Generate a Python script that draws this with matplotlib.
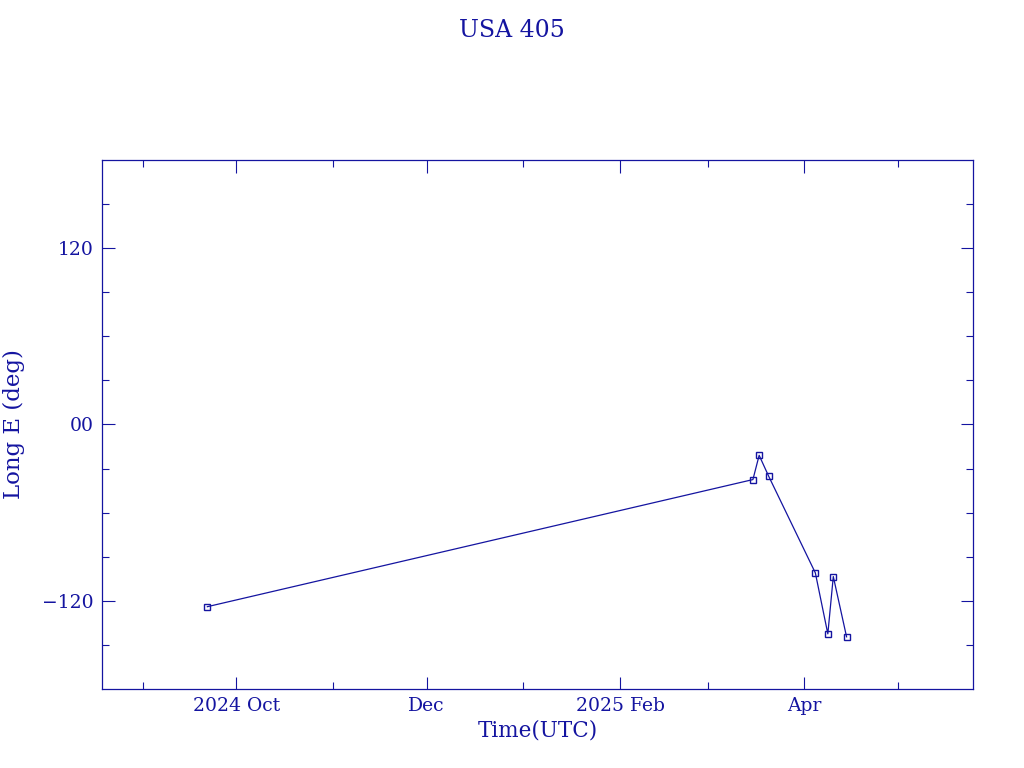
import numpy as np
import matplotlib
matplotlib.use('Agg')
import matplotlib.pyplot as plt
import matplotlib.dates as mdates
from datetime import datetime

dates = ['2024-09-21 18:00', '2025-03-15 12:00', '2025-03-17 12:00', '2025-03-20 12:00',
         '2025-04-04 12:00', '2025-04-08 12:00', '2025-04-10 06:00', '2025-04-14 12:00']
longs = [-124.0, -37.5, -21.0, -35.0, -101.0, -142.5, -103.5, -144.5]

yticks = [-120, 0, 120]
ylabels = ['\u2212120', '00', '120']

col = '#1414a0'
t = [datetime.strptime(d, '%Y-%m-%d %H:%M') for d in dates]

plt.rcParams['font.family'] = ['DejaVu Serif']
fig = plt.figure(figsize=(10.24, 7.68), dpi=100)
ax = fig.add_axes([0.0996, 0.1029, 0.8506, 0.6888])

ax.plot(t, longs, '-', color=col, lw=0.9)
ax.plot(t, longs, 's', color=col, ms=4, mfc='none', mew=1.0)

ax.set_xlim(datetime(2024, 8, 19), datetime(2025, 5, 25))
ax.set_ylim(-180, 180)

ax.xaxis.set_major_locator(mdates.MonthLocator(bymonth=[2, 4, 10, 12]))
ax.xaxis.set_minor_locator(mdates.MonthLocator())
def fmt(x, pos):
    d = mdates.num2date(x)
    if d.month in (2, 10):
        return d.strftime('%Y %b')
    return d.strftime('%b')
ax.xaxis.set_major_formatter(plt.FuncFormatter(fmt))

ax.set_yticks(yticks)
ax.set_yticklabels(ylabels)
ax.set_yticks(np.arange(-150, 180, 30), minor=True)

ax.tick_params(which='both', direction='in', top=True, right=True,
               colors=col, labelcolor=col, labelsize=13.5, width=0.8)
ax.tick_params(which='major', length=9, pad=6)
ax.tick_params(which='minor', length=5)
for s in ax.spines.values():
    s.set_color(col)
    s.set_linewidth(0.9)

ax.set_xlabel('Time(UTC)', color=col, fontsize=15.5, labelpad=3)
ax.set_ylabel('Long E (deg)', color=col, fontsize=16.5, labelpad=12)
fig.suptitle('USA 405', color=col, fontsize=17, y=0.975)

fig.savefig('out.png', dpi=100)
